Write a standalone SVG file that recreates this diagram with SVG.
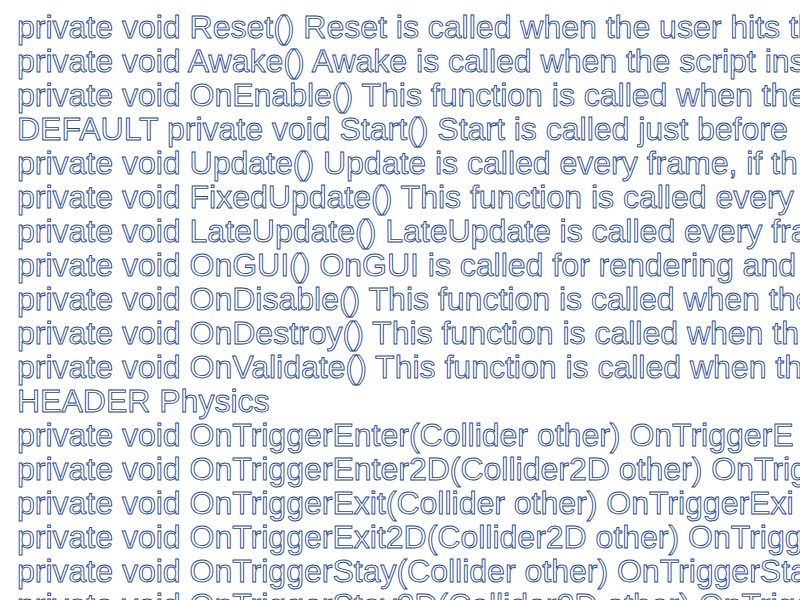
<svg xmlns="http://www.w3.org/2000/svg" width="800" height="600" viewBox="0 0 800 600">
<style>
text{font-family:"Liberation Sans",Arial,sans-serif;font-size:32px;fill:#ffffff;stroke:#1d4690;stroke-width:0.9px}
</style>
<rect width="800" height="600" fill="#ffffff"/>
<g id="lines">
<text x="17" y="38">private void Reset() Reset is called when the user hits the</text>
<text x="17" y="72">private void Awake() Awake is called when the script ins</text>
<text x="17" y="106">private void OnEnable() This function is called when the</text>
<text x="17" y="140">DEFAULT private void Start() Start is called just before</text>
<text x="17" y="174">private void Update() Update is called every frame, if th</text>
<text x="17" y="208">private void FixedUpdate() This function is called every</text>
<text x="17" y="242">private void LateUpdate() LateUpdate is called every fra</text>
<text x="17" y="276">private void OnGUI() OnGUI is called for rendering and</text>
<text x="17" y="310">private void OnDisable() This function is called when the</text>
<text x="17" y="344">private void OnDestroy() This function is called when th</text>
<text x="17" y="378">private void OnValidate() This function is called when th</text>
<text x="17" y="412">HEADER Physics</text>
<text x="17" y="446">private void OnTriggerEnter(Collider other) OnTriggerE</text>
<text x="17" y="480">private void OnTriggerEnter2D(Collider2D other) OnTrig</text>
<text x="17" y="514">private void OnTriggerExit(Collider other) OnTriggerExi</text>
<text x="17" y="548">private void OnTriggerExit2D(Collider2D other) OnTrigg</text>
<text x="17" y="582">private void OnTriggerStay(Collider other) OnTriggerSta</text>
<text x="17" y="616">private void OnTriggerStay2D(Collider2D other) OnTrigg</text>
</g>
</svg>
